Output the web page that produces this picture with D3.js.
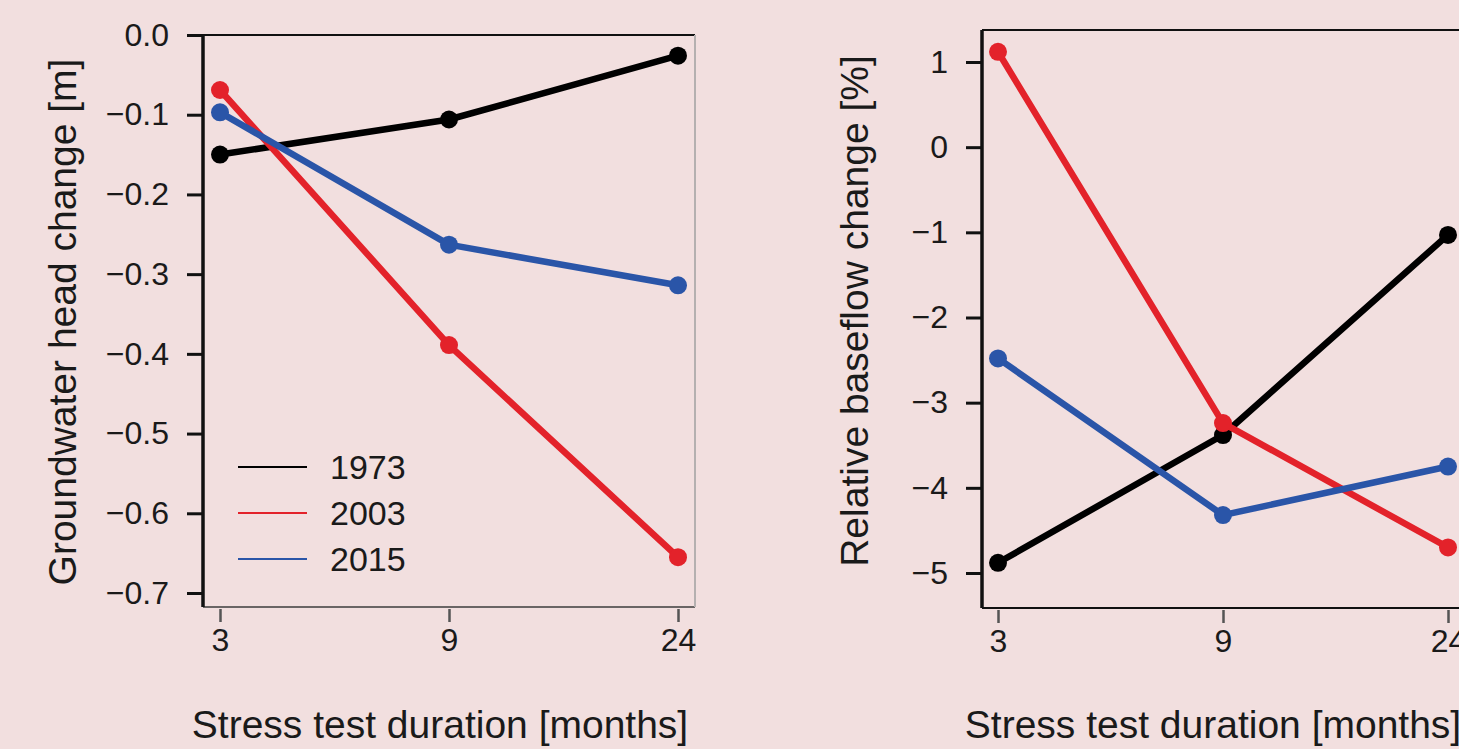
<!DOCTYPE html>
<html>
<head>
<meta charset="utf-8">
<script src="https://cdnjs.cloudflare.com/ajax/libs/d3/7.9.0/d3.min.js"></script>
<style>
  html, body { margin: 0; padding: 0; background: #f2dfdf; }
  svg { display: block; }
  text { font-family: "Liberation Sans", Arial, sans-serif; fill: #1a1a1a; }
</style>
</head>
<body>
<div id="grafico"></div>
<script>
// --- dados ---
const duracoes = ["3", "9", "24"];
const anos = ["1973", "2003", "2015"];
const coresAnos = { "1973": "#000000", "2003": "#e3222a", "2015": "#2a55a8" };

// carga hidráulica [m]
const cabeca1973 = [-0.150, -0.106, -0.026];
const cabeca2003 = [-0.069, -0.389, -0.655];
const cabeca2015 = [-0.097, -0.263, -0.314];

// vazão de base relativa [%]
const vazao1973 = [-4.88, -3.38, -1.03];
const vazao2003 = [1.12, -3.24, -4.70];
const vazao2015 = [-2.48, -4.32, -3.75];

const ticksCabeca = [0, -0.1, -0.2, -0.3, -0.4, -0.5, -0.6, -0.7];
const ticksVazao = [1, 0, -1, -2, -3, -4, -5];

const W = 1459, H = 749;
const svg = d3.select("#grafico").append("svg")
  .attr("width", W).attr("height", H);

svg.append("rect").attr("width", W).attr("height", H).attr("fill", "#f2dfdf");

const menos = s => s.replace("-", "\u2212");

function desenharPainel(cfg) {
  const g = svg.append("g");
  const x = d3.scalePoint().domain(duracoes).range(cfg.xRange);
  const y = d3.scaleLinear().domain(cfg.yDomain).range(cfg.yRange);

  // moldura
  g.append("line").attr("x1", cfg.left).attr("x2", cfg.right)
    .attr("y1", cfg.top).attr("y2", cfg.top)
    .attr("stroke", "#111").attr("stroke-width", 2);
  g.append("line").attr("x1", cfg.left).attr("x2", cfg.right)
    .attr("y1", cfg.bottom).attr("y2", cfg.bottom)
    .attr("stroke", cfg.corBase).attr("stroke-width", 2);
  g.append("line").attr("x1", cfg.right).attr("x2", cfg.right)
    .attr("y1", cfg.top).attr("y2", cfg.bottom)
    .attr("stroke", "#b5b0b0").attr("stroke-width", 2);

  // eixo y
  const eixoY = g.append("g").attr("transform", `translate(${cfg.left},0)`)
    .call(d3.axisLeft(y).tickValues(cfg.ticks).tickSize(16).tickPadding(18)
      .tickFormat(cfg.fmt));
  eixoY.select(".domain").remove();
  eixoY.selectAll(".tick line").attr("stroke", "#111").attr("stroke-width", 3);
  eixoY.selectAll(".tick text").style("font-size", "32px")
    .attr("font-family", null).attr("fill", "#1a1a1a");
  g.append("line").attr("x1", cfg.left).attr("x2", cfg.left)
    .attr("y1", cfg.top).attr("y2", cfg.bottom)
    .attr("stroke", "#111").attr("stroke-width", 3.5);

  // eixo x
  const eixoX = g.append("g").attr("transform", `translate(0,${cfg.bottom + 2})`)
    .call(d3.axisBottom(x).tickSize(13).tickPadding(6));
  eixoX.select(".domain").remove();
  eixoX.selectAll(".tick line").attr("stroke", "#555").attr("stroke-width", 2.5);
  eixoX.selectAll(".tick text").style("font-size", "32px")
    .attr("font-family", null).attr("fill", "#1a1a1a");

  // títulos
  g.append("text")
    .attr("transform", `translate(${cfg.yTituloX},${cfg.yTituloY}) rotate(-90)`)
    .attr("text-anchor", "middle").style("font-size", "39px")
    .text(cfg.yTitulo);
  g.append("text")
    .attr("x", cfg.xTituloX).attr("y", 738)
    .attr("text-anchor", "middle").style("font-size", "39px")
    .text("Stress test duration [months]");

  // séries
  const linha = d3.line().x((d, i) => x(duracoes[i])).y(d => y(d));
  cfg.series.forEach(([ano, vals]) => {
    g.append("path").datum(vals)
      .attr("d", linha)
      .attr("fill", "none")
      .attr("stroke", coresAnos[ano])
      .attr("stroke-width", 6.5)
      .attr("stroke-linejoin", "round");
    g.selectAll(null).data(vals).join("circle")
      .attr("cx", (d, i) => x(duracoes[i]))
      .attr("cy", d => y(d))
      .attr("r", 9)
      .attr("fill", coresAnos[ano]);
  });
  return g;
}

const painelEsq = desenharPainel({
  left: 203, right: 695, top: 35, bottom: 607,
  xRange: [220, 678], yDomain: [0, -0.7], yRange: [35, 593],
  ticks: ticksCabeca, fmt: d => menos(d3.format(".1f")(d)),
  corBase: "#6a6565",
  yTitulo: "Groundwater head change [m]", yTituloX: 76, yTituloY: 322,
  xTituloX: 440,
  series: [["1973", cabeca1973], ["2003", cabeca2003], ["2015", cabeca2015]]
});

desenharPainel({
  left: 982, right: 1475, top: 30, bottom: 608,
  xRange: [998, 1448], yDomain: [1, -5], yRange: [62, 573],
  ticks: ticksVazao, fmt: d => menos(d3.format("d")(d)),
  corBase: "#111",
  yTitulo: "Relative baseflow change [%]", yTituloX: 868, yTituloY: 311,
  xTituloX: 1213,
  series: [["1973", vazao1973], ["2003", vazao2003], ["2015", vazao2015]]
});

// legenda
const legenda = painelEsq.append("g");
anos.forEach((ano, i) => {
  const yy = 467 + i * 46;
  legenda.append("line").attr("x1", 238).attr("x2", 307)
    .attr("y1", yy).attr("y2", yy)
    .attr("stroke", coresAnos[ano]).attr("stroke-width", 2);
  legenda.append("text").attr("x", 330).attr("y", yy)
    .attr("dy", "0.36em").style("font-size", "34px").text(ano);
});
</script>
</body>
</html>
